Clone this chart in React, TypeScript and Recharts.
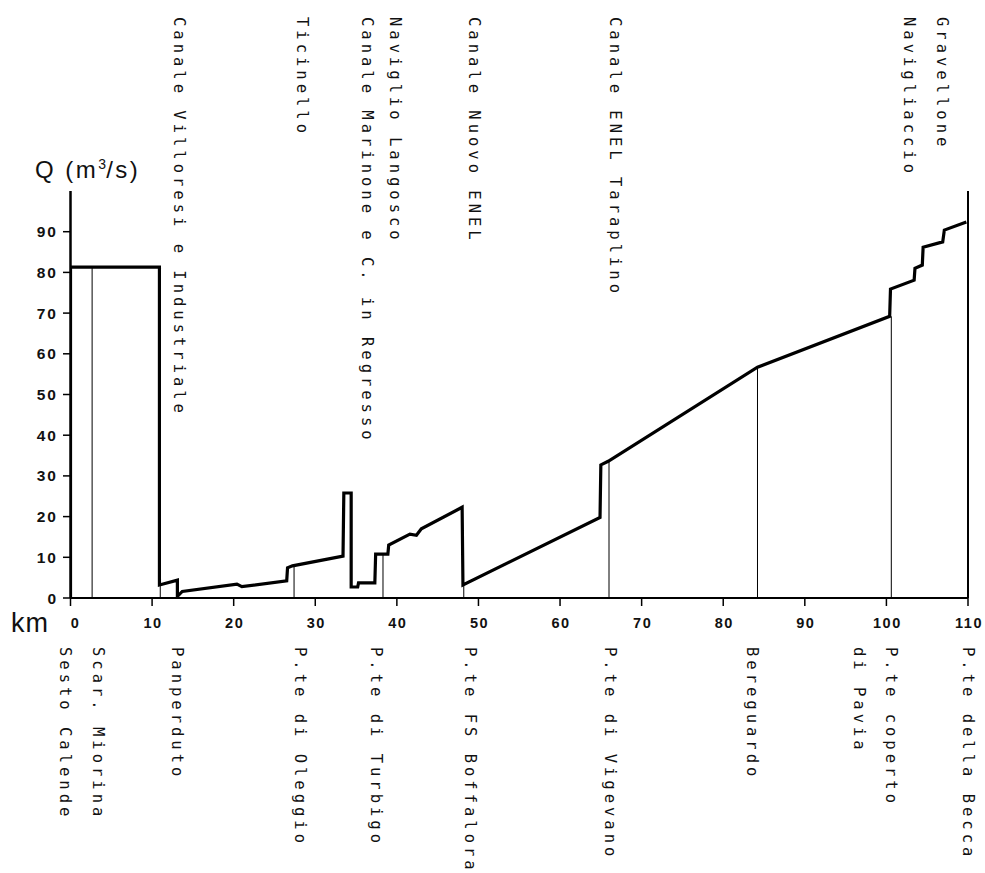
import React from 'react';
import { ComposedChart, Line, XAxis, YAxis, ReferenceLine, Label } from 'recharts';

// Flow profile along the river (km, discharge m3/s)
const flowKm = [0, 0, 10.9, 10.9, 13.1, 13.1, 13.7, 20.4, 21.0, 26.5, 26.6, 27.2, 33.4, 33.5, 34.4, 34.4, 35.2, 35.3, 37.3, 37.4, 38.9, 39.0, 41.6, 42.4, 43.0, 48.0, 48.1, 64.9, 65.0, 65.9, 84.2, 100.4, 100.5, 103.4, 103.5, 104.4, 104.5, 106.9, 107.1, 109.8];
const flowQ = [0, 81.3, 81.3, 3.2, 4.4, 0.4, 1.6, 3.4, 2.8, 4.2, 7.4, 7.9, 10.3, 25.8, 25.8, 2.7, 2.7, 3.7, 3.7, 10.8, 10.8, 13.0, 15.7, 15.4, 17.0, 22.3, 3.2, 19.8, 32.7, 33.6, 56.7, 69.2, 75.9, 78.1, 81.0, 81.8, 86.2, 87.5, 90.4, 92.4];

const yTicks = [0, 10, 20, 30, 40, 50, 60, 70, 80, 90];
const xTicks = [0, 10, 20, 30, 40, 50, 60, 70, 80, 90, 100, 110];

// Tributaries / withdrawals (top labels)
const tributaryNames = ['Canale Villoresi e Industriale', 'Ticinello', 'Canale Marinone e C. in Regresso', 'Naviglio Langosco', 'Canale Nuovo ENEL', 'Canale ENEL Taraplino', 'Navigliaccio', 'Gravellone'];
const tributaryKm = [13.3, 28.4, 36.3, 39.8, 49.4, 66.7, 102.8, 106.8];

// Stations (bottom labels)
const stationNames = ['Sesto Calende', 'Scar. Miorina', 'Panperduto', 'P.te di Oleggio', 'P.te di Turbigo', 'P.te FS Boffalora', 'P.te di Vigevano', 'Bereguardo', 'di Pavia', 'P.te coperto', 'P.te della Becca'];
const stationKm = [-0.67, 3.4, 13.0, 28.1, 37.5, 49.0, 66.1, 83.5, 96.6, 100.6, 110.0];

// Thin vertical marks at stations (km, top discharge)
const markKm = [2.65, 11.0, 27.4, 38.3, 48.2, 66.0, 84.2, 100.6, 110.0];
const markTopQ = [81.3, 3.2, 7.9, 10.8, 3.2, 33.6, 56.7, 69.2, 100];

const flowData = flowKm.map((km, i) => ({ km, q: flowQ[i] }));

const MONO = 'DejaVu Sans Mono, monospace';
const SANS = 'Liberation Sans, Arial, sans-serif';
const INK = '#111';

const TopTick = (props: any) => {
  const { x, payload } = props;
  const i = tributaryKm.indexOf(payload.value);
  return (
    <text transform={`translate(${x},17) rotate(90)`} textAnchor="start" dominantBaseline="central"
      fontFamily={MONO} fontSize={15.5} letterSpacing={4.0} fill={INK}>
      {tributaryNames[i]}
    </text>
  );
};

const BottomNameTick = (props: any) => {
  const { x, payload } = props;
  const i = stationKm.indexOf(payload.value);
  return (
    <text transform={`translate(${x},647) rotate(90)`} textAnchor="start" dominantBaseline="central"
      fontFamily={MONO} fontSize={15.5} letterSpacing={4.0} fill={INK}>
      {stationNames[i]}
    </text>
  );
};

const KmTick = (props: any) => {
  const { x, y, payload } = props;
  return (
    <text x={x + (payload.value === 0 ? 5 : 1)} y={y} dy="0.71em" textAnchor="middle"
      fontFamily={SANS} fontSize={14.5} fontWeight="bold" letterSpacing={1.5} fill={INK}>
      {payload.value}
    </text>
  );
};

const QTick = (props: any) => {
  const { x, y, payload } = props;
  return (
    <text x={x} y={y} dy="0.36em" textAnchor="end"
      fontFamily={SANS} fontSize={15.5} fontWeight="bold" letterSpacing={2} fill={INK}>
      {payload.value}
    </text>
  );
};

const QTitle = () => (
  <text x={35} y={178} fontFamily={SANS} fontSize={24} letterSpacing={2.5} fill={INK}>
    Q (m<tspan dy={-9} fontSize={14} letterSpacing={0}>3</tspan><tspan dy={9}>/s)</tspan>
  </text>
);

const KmTitle = () => (
  <text x={11} y={632} fontFamily={SANS} fontSize={27} letterSpacing={1} fill={INK}>km</text>
);

export default function App() {
  return (
    <div style={{ position: 'absolute', left: 0, top: 0, background: '#fff' }}>
      <ComposedChart width={985} height={873} data={flowData}
        margin={{ top: 11, right: 17, bottom: 5, left: 10.5 }}>
        <XAxis xAxisId="km" dataKey="km" type="number" domain={[0, 110]} allowDataOverflow
          ticks={xTicks} interval={0} height={30} tickSize={8} tickMargin={12}
          axisLine={{ stroke: '#000', strokeWidth: 2 }} tickLine={{ stroke: '#000', strokeWidth: 1.5 }}
          tick={<KmTick />}>
          <Label content={<KmTitle />} />
        </XAxis>
        <XAxis xAxisId="names" dataKey="km" type="number" domain={[0, 110]} allowDataOverflow
          ticks={stationKm} interval={0} height={240} axisLine={false} tickLine={false}
          tick={<BottomNameTick />} />
        <XAxis xAxisId="rivers" orientation="top" dataKey="km" type="number" domain={[0, 110]} allowDataOverflow
          ticks={tributaryKm} interval={0} height={180} axisLine={false} tickLine={false}
          tick={<TopTick />} />
        <YAxis yAxisId="q" type="number" domain={[0, 100]} allowDataOverflow ticks={yTicks} interval={0}
          width={60} tickSize={7.5} tickMargin={5}
          axisLine={{ stroke: '#000', strokeWidth: 2.5 }} tickLine={{ stroke: '#000', strokeWidth: 1.5 }}
          tick={<QTick />}>
          <Label content={<QTitle />} />
        </YAxis>
        {markKm.map((km, i) => (
          <ReferenceLine key={`m${i}`} xAxisId="km" yAxisId="q" ifOverflow="visible"
            segment={[{ x: km, y: 0 }, { x: km, y: markTopQ[i] }]}
            stroke="#000" strokeWidth={i === markKm.length - 1 ? 2 : 1} />
        ))}
        <Line xAxisId="km" yAxisId="q" type="linear" dataKey="q" stroke="#000" strokeWidth={3.2}
          dot={false} activeDot={false} isAnimationActive={false} strokeLinejoin="miter" />
      </ComposedChart>
    </div>
  );
}
